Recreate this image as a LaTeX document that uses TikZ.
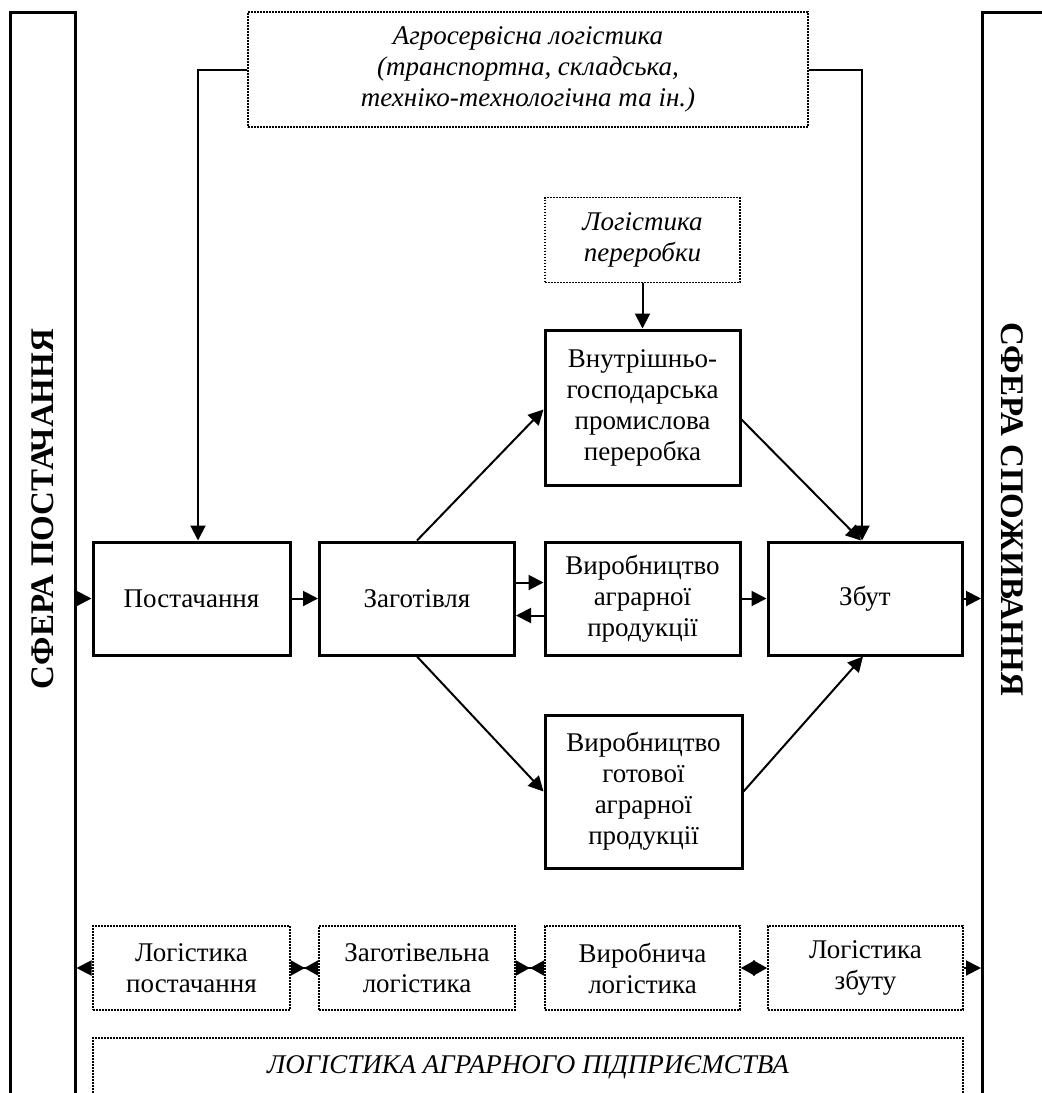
\documentclass[tikz,border=0pt]{standalone}
\usepackage{fontspec}
\setmainfont{Liberation Serif}
\usetikzlibrary{arrows.meta}

\tikzset{
  txt/.style={font=\fontsize{13.5}{15.5}\selectfont,align=center,inner sep=0pt},
  procbox/.style={txt,draw,line width=1.5pt,fill=white},
  logbox/.style={txt,draw,line width=0.8pt,dash pattern=on 0.8pt off 0.7pt,fill=white},
  barbox/.style={draw,line width=1.5pt,minimum width=32.5pt,minimum height=549pt},
  bartxt/.style={font=\bfseries\fontsize{16.5}{18}\selectfont,inner sep=0pt},
  arr/.style={line width=1pt,-{Triangle[length=7.5pt,width=7.5pt]}},
  twoway/.style={line width=1pt,{Triangle[length=7pt,width=7.5pt]}-{Triangle[length=7pt,width=7.5pt]}},
  tie/.style={line width=1pt,{Triangle[length=7pt,width=7.5pt,reversed]}-{Triangle[length=7pt,width=7.5pt,reversed]}}
}

\begin{document}
\begin{tikzpicture}[x=0.5pt,y=-0.5pt]
  \useasboundingbox (0,0) rectangle (1042,1093);
  % side spheres
  \node[barbox] (supbar) at (42.5,561) {};
  \node[barbox] (conbar) at (1015,561) {};
  \node[bartxt,rotate=90] (suptxt) at (43,509) {СФЕРА ПОСТАЧАННЯ};
  \node[bartxt,rotate=-90] (contxt) at (1012,509) {СФЕРА СПОЖИВАННЯ};

  % service logistics
  \node[logbox,minimum width=280pt,minimum height=57.5pt] (agro) at (528,69.5)
    {\itshape Агросервісна логістика\\ \itshape (транспортна, складська,\\ \itshape техніко-технологічна та ін.)};
  \node[logbox,minimum width=97.5pt,minimum height=42.5pt] (perer) at (642.5,240)
    {\itshape Логістика\\ \itshape переробки};

  % main chain
  \node[procbox,minimum width=97.5pt,minimum height=77.5pt] (vnutr) at (642.5,407.5)
    {Внутрішньо-\\господарська\\промислова\\переробка};
  \node[procbox,minimum width=98.5pt,minimum height=56.5pt] (post) at (191.5,598.5) {Постачання};
  \node[procbox,minimum width=97.5pt,minimum height=56.5pt] (zag) at (417,598.5) {Заготівля};
  \node[procbox,minimum width=97.5pt,minimum height=56.5pt] (vyr) at (642.5,598.5)
    {Виробництво\\аграрної\\продукції};
  \node[procbox,minimum width=97pt,minimum height=56.5pt] (zbut) at (865,598.5) {Збут};
  \node[procbox,minimum width=98.5pt,minimum height=76.5pt] (gotov) at (643.5,791.5)
    {Виробництво\\готової\\аграрної\\продукції};

  % logistics row
  \node[logbox,minimum width=98.5pt,minimum height=42pt] (lpost) at (191.5,968) {Логістика\\постачання};
  \node[logbox,minimum width=98pt,minimum height=42pt] (lzag) at (417,968) {Заготівельна\\логістика};
  \node[logbox,minimum width=97.5pt,minimum height=42pt] (lvyr) at (642.5,968) {Виробнича\\логістика};
  \node[logbox,minimum width=97.5pt,minimum height=42pt] (lzbut) at (865.5,968) {Логістика\\збуту};
  \node[logbox,minimum width=435pt,minimum height=29pt] (lap) at (528,1067)
    {\itshape ЛОГІСТИКА АГРАРНОГО ПІДПРИЄМСТВА};

  % connectors
  \draw[arr] (agro.west) -| ([xshift=3.25pt]post.north);
  \draw[arr] (agro.east) -| ([xshift=-1.5pt]zbut.north);
  \draw[arr] (perer.south) -- (vnutr.north);
  \draw[arr] (supbar.east |- post.west) -- (post.west);
  \draw[arr] (post.east) -- (zag.west);
  \draw[arr] ([yshift=8pt]zag.east) -- ([yshift=8pt]vyr.west);
  \draw[arr] ([yshift=-8.5pt]vyr.west) -- ([yshift=-8.5pt]zag.east);
  \draw[arr] (zag.north) -- ([yshift=-1pt]vnutr.west);
  \draw[arr] (zag.south) -- (gotov.west);
  \draw[arr] ([yshift=-6pt]vnutr.east) -- ([xshift=-2pt]zbut.north);
  \draw[arr] (gotov.east) -- ([xshift=-1pt]zbut.south);
  \draw[arr] (vyr.east) -- (zbut.west);
  \draw[arr] (zbut.east) -- (conbar.west |- zbut.east);
  \draw[arr] (lpost.west) -- (supbar.east |- lpost.west);
  \draw[tie] (lpost.east) -- (lzag.west);
  \draw[tie] (lzag.east) -- (lvyr.west);
  \draw[twoway] (lvyr.east) -- (lzbut.west);
  \draw[arr] (lzbut.east) -- (conbar.west |- lzbut.east);
\end{tikzpicture}
\end{document}
